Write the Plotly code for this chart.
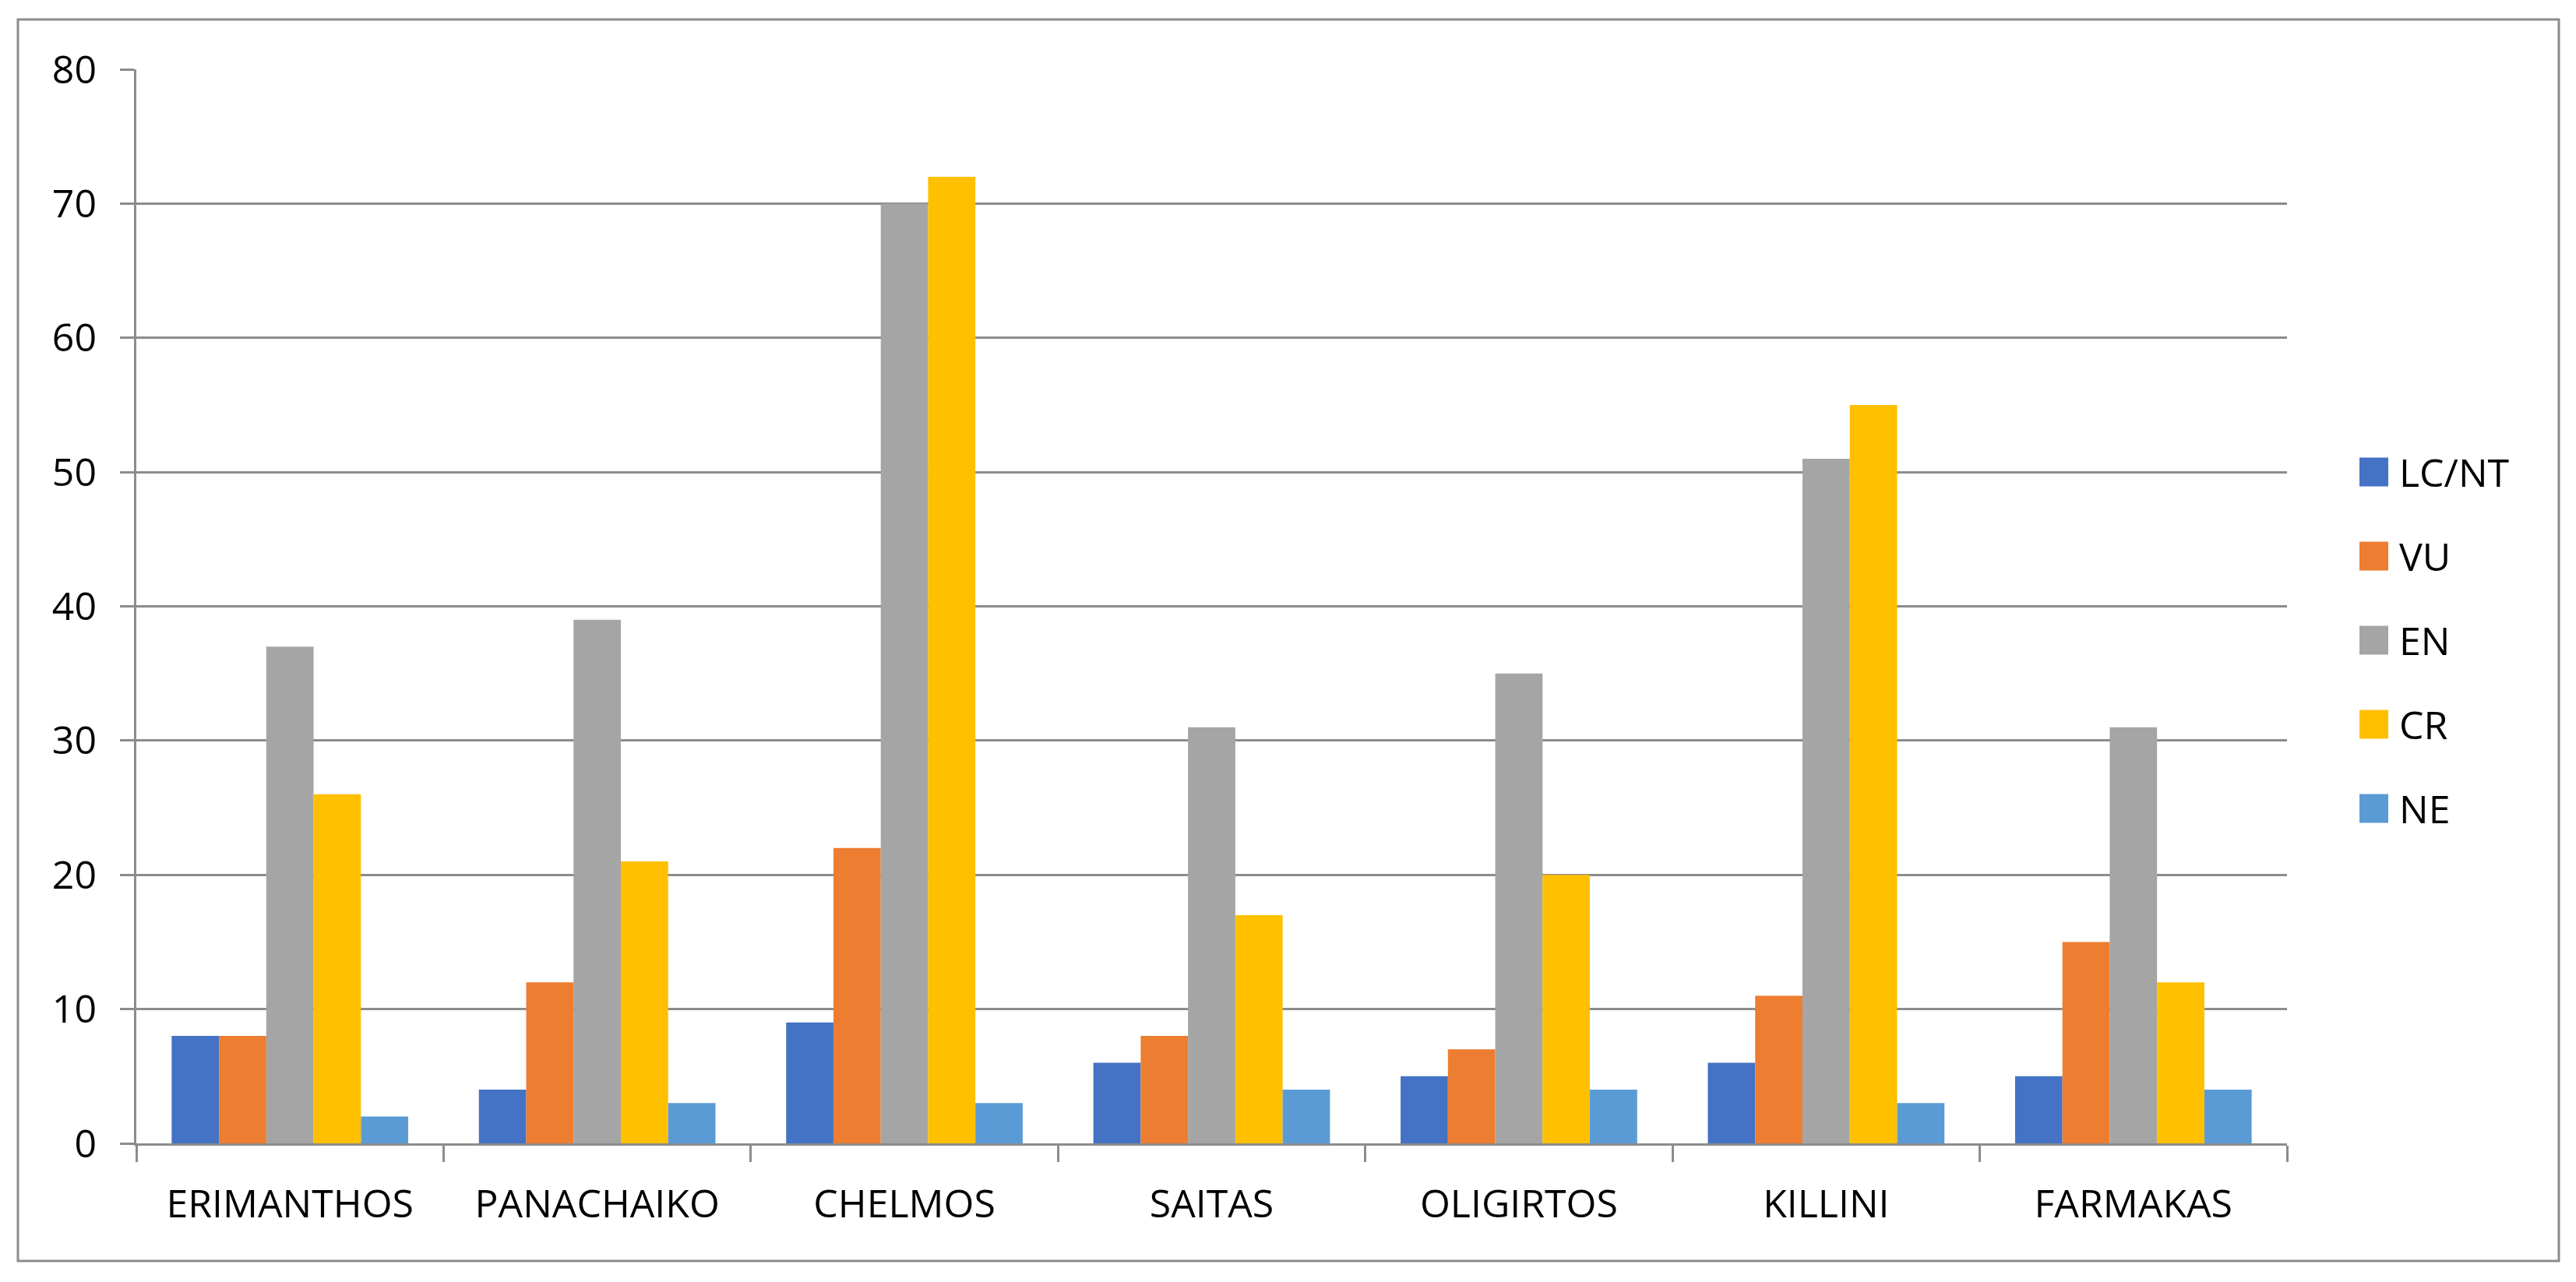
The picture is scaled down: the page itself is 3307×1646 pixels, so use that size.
import plotly.graph_objects as go

# ---------------- data ----------------
categories = ["ERIMANTHOS", "PANACHAIKO", "CHELMOS", "SAITAS", "OLIGIRTOS", "KILLINI", "FARMAKAS"]
series_names = ["LC/NT", "VU", "EN", "CR", "NE"]
lc_nt = [8, 4, 9, 6, 5, 6, 5]
vu = [8, 12, 22, 8, 7, 11, 15]
en = [37, 39, 70, 31, 35, 51, 31]
cr = [26, 21, 72, 17, 20, 55, 12]
ne = [2, 3, 3, 4, 4, 3, 4]
y_tick_values = [0, 10, 20, 30, 40, 50, 60, 70, 80]
series_colors = ["#4472C4", "#ED7D31", "#A5A5A5", "#FFC000", "#5B9BD5"]

series_values = [lc_nt, vu, en, cr, ne]

# ---------------- layout geometry (pixels, page coordinates) ----------------
OFF = 8                      # page body margin
W, H = 3307 - 2 * OFF, 1646 - 2 * OFF
PL, PR, PT, PB = 175 - OFF, 2936 - OFF, 89 - OFF, 1468 - OFF   # plot area edges in figure px
PW, PH = PR - PL, PB - PT
FONT = "Open Sans"
FS = 50
GRID = "#8c8c8c"


def px_to_paper_x(px):
    return (px - OFF - PL) / PW


def px_to_paper_y(py):
    return (PB - (py - OFF)) / PH


fig = go.Figure()
for name, vals, col in zip(series_names, series_values, series_colors):
    fig.add_trace(go.Bar(
        x=categories, y=vals, name=name,
        marker=dict(color=col, line=dict(width=0)),
        showlegend=False,
    ))

# outer chart border
fig.add_shape(
    type="rect", xref="paper", yref="paper",
    x0=px_to_paper_x(23), x1=px_to_paper_x(3285),
    y0=px_to_paper_y(1619), y1=px_to_paper_y(25),
    line=dict(color=GRID, width=3), fillcolor="rgba(0,0,0,0)", layer="below",
)

# legend (large square swatches like the original)
LEG_X0, LEG_SQ = 3029, 37
LEG_Y0, LEG_DY = 606, 108
for i, (name, col) in enumerate(zip(series_names, series_colors)):
    cy = LEG_Y0 + i * LEG_DY
    fig.add_shape(
        type="rect", xref="paper", yref="paper",
        x0=px_to_paper_x(LEG_X0), x1=px_to_paper_x(LEG_X0 + LEG_SQ),
        y0=px_to_paper_y(cy + LEG_SQ / 2), y1=px_to_paper_y(cy - LEG_SQ / 2),
        line=dict(width=0), fillcolor=col,
    )
    fig.add_annotation(
        xref="paper", yref="paper",
        x=px_to_paper_x(LEG_X0 + LEG_SQ + 12), y=px_to_paper_y(cy),
        text=name, showarrow=False, xanchor="left", yanchor="middle",
        font=dict(family=FONT, size=FS, color="#000000"),
    )

fig.update_layout(
    width=W, height=H,
    margin=dict(l=PL, r=W - PR, t=PT, b=H - PB, pad=0),
    paper_bgcolor="white", plot_bgcolor="white",
    barmode="group", bargap=0.23, bargroupgap=0,
    font=dict(family=FONT, size=FS, color="#000000"),
    showlegend=False,
)

fig.update_xaxes(
    type="category",
    showline=True, linecolor=GRID, linewidth=3,
    ticks="outside", tickson="boundaries", ticklen=21, tickwidth=3, tickcolor=GRID,
    showgrid=False, zeroline=False,
    tickfont=dict(family=FONT, size=FS, color="#000000"),
    ticklabelstandoff=32,
)
fig.update_yaxes(
    range=[0, 80], tickvals=y_tick_values,
    showline=True, linecolor=GRID, linewidth=3,
    ticks="outside", ticklen=18, tickwidth=3, tickcolor=GRID,
    showgrid=True, gridcolor=GRID, gridwidth=3,
    zeroline=False,
    tickfont=dict(family=FONT, size=FS, color="#000000"),
    ticklabelstandoff=20,
)

fig.write_html("out.html")
